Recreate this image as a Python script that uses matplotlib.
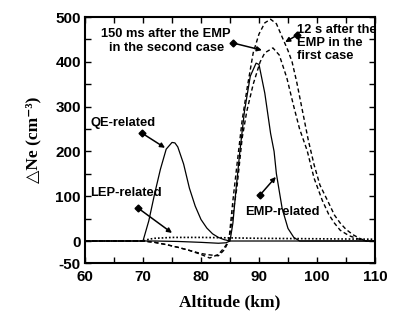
import numpy as np
import matplotlib
matplotlib.use("Agg")
import matplotlib.pyplot as plt
from matplotlib.ticker import MultipleLocator, FixedLocator

# ---- data ----
qe_x = [60, 69.9, 70, 71, 72, 73, 74, 75, 75.5, 76, 77, 78, 79, 80, 81, 82, 83, 84, 85, 110]
qe_y = [0, 0, 0, 45, 105, 160, 205, 220, 219, 210, 172, 118, 78, 48, 29, 16, 8, 3, 0, 0]

emp_x = [60, 72, 76, 80, 83, 84.3, 85, 85.5, 86, 86.7, 87.5, 88.5, 89.5, 90, 91, 92, 92.6, 93, 94, 95, 96, 97, 110]
emp_y = [0, 0, -1, -3, -5, -4, 0, 40, 110, 200, 290, 368, 397, 394, 330, 240, 200, 150, 72, 28, 8, 0, 0]

lep_x = [60, 70, 71, 72, 75, 80, 85, 90, 100, 110]
lep_y = [0, 0, 4, 6, 8, 8, 7, 6, 5, 4]

first_x = [60, 70, 72, 74, 76, 78, 80, 81.5, 83, 84, 84.8, 85.5, 86.2, 87.1, 88, 89, 90, 91, 92, 93, 94,
           95, 95.7, 96.5, 97.5, 98.5, 99.5, 100.5, 101.9, 103, 104, 105, 106.2, 107.5, 108.5, 110]
first_y = [0, 0, -3, -8, -14, -21, -30, -38, -30, -15, 0, 90, 170, 270, 345, 420, 462, 487, 495, 485, 455,
           425, 400, 355, 290, 225, 170, 125, 88, 58, 40, 26, 14, 5, 0, 0]

second_x = [60, 70, 72, 74, 76, 78, 80, 81.5, 83, 84, 84.8, 85.5, 86.2, 87.1, 87.9, 89, 90.2, 91, 92.4, 93.5,
            94.8, 96, 97, 98.3, 99.5, 100.9, 102, 103, 104, 105.5, 107, 108.5, 110]
second_y = [0, 0, -3, -8, -14, -21, -28, -31, -33, -20, 0, 60, 120, 230, 290, 350, 400, 420, 431, 415,
            364, 300, 250, 202, 140, 91, 60, 40, 24, 12, 5, 0, 0]

x_ticks = [60, 70, 80, 90, 100, 110]
y_ticks = [-50, 0, 100, 200, 300, 400, 500]

# ---- figure ----
fig = plt.figure(figsize=(3.94, 3.15), dpi=100)
ax = fig.add_axes([0.2157, 0.1638, 0.7361, 0.7822])

ax.plot(qe_x, qe_y, color='k', lw=0.9)
ax.plot(emp_x, emp_y, color='k', lw=0.9)
ax.plot(lep_x, lep_y, color='k', lw=1.2, linestyle=(0, (1, 1.2)))
ax.plot(first_x, first_y, color='k', lw=1.0, linestyle=(0, (3, 2)))
ax.plot(second_x, second_y, color='k', lw=1.0, linestyle=(0, (3, 2)))

ax.set_xlim(60, 110)
ax.set_ylim(-50, 500)
ax.xaxis.set_major_locator(FixedLocator(x_ticks))
ax.xaxis.set_minor_locator(MultipleLocator(5))
ax.yaxis.set_major_locator(FixedLocator(y_ticks))
ax.yaxis.set_minor_locator(FixedLocator([50, 150, 250, 350, 450]))
ax.tick_params(which='both', direction='in', top=True, right=True, length=4, width=1)
for s in ax.spines.values():
    s.set_linewidth(1.5)

tick_font = dict(family='Liberation Sans', weight='bold', size=11)
ax.set_xticklabels([str(v) for v in x_ticks], fontdict=tick_font)
ax.set_yticklabels([str(v) for v in y_ticks], fontdict=tick_font)
ax.tick_params(axis='x', pad=5)
ax.tick_params(axis='y', pad=3)

ax.set_xlabel('Altitude (km)', family='Liberation Serif', weight='bold', fontsize=12.5, labelpad=7)
ax.set_ylabel('\u25b3Ne (cm\u207b\u00b3)', family=['Liberation Serif', 'DejaVu Sans'],
              weight='bold', fontsize=12.5, labelpad=10)

ann = dict(family='Liberation Sans', weight='bold', size=9.3)
ax.text(74.0, 476, '150 ms after the EMP\nin the second case', ha='center', va='top',
        multialignment='center', linespacing=1.25, **ann)
ax.text(96.6, 484, '12 s after the\nEMP in the\nfirst case', ha='left', va='top',
        linespacing=1.1, **ann)
ax.text(60.9, 263, 'QE-related', ha='left', va='center', **ann)
ax.text(60.9, 107, 'LEP-related', ha='left', va='center', **ann)
ax.text(87.6, 65, 'EMP-related', ha='left', va='center', **ann)

arrows = [((85.5, 442), (90.5, 426)),
          ((96.5, 459), (94.5, 444)),
          ((69.8, 241), (73.8, 208)),
          ((69.1, 74), (75.0, 18)),
          ((90.2, 103), (92.9, 143))]
for tail, head in arrows:
    ax.annotate('', xy=head, xytext=tail,
                arrowprops=dict(arrowstyle='-|>', lw=1.1, color='k', mutation_scale=7,
                                shrinkA=0, shrinkB=0))
    ax.plot([tail[0]], [tail[1]], marker='D', color='k', markersize=3.5)

fig.savefig('out.png', dpi=100)
